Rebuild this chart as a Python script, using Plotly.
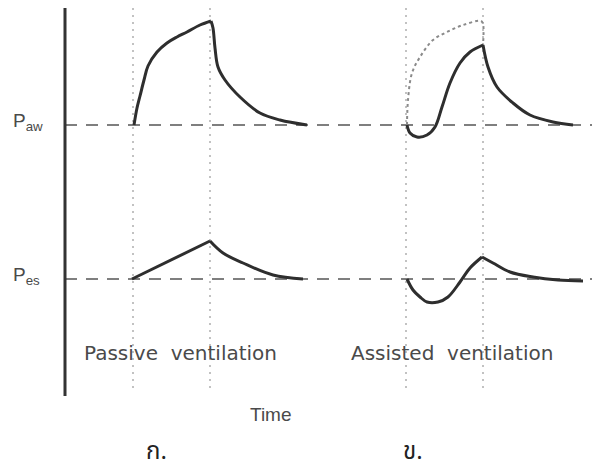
import plotly.graph_objects as go

# Time axis (horizontal units) and pressure (vertical units, screen-like, increasing downward)
paw_base = 125
pes_base = 279
cycle_marks_left = [133, 210]
cycle_marks_right = [406, 483]

# Passive ventilation - Paw
pa_rise_t = [134, 137, 140, 144, 148, 157, 167, 177, 187, 200, 211]
pa_rise_p = [125, 108, 96, 80, 66, 52, 43, 37, 32, 25, 21]
pa_fall_t = [211, 213, 215, 218, 225, 240, 260, 280, 307]
pa_fall_p = [21, 28, 48, 67, 80, 97, 113, 120, 125]

# Assisted ventilation - Paw (solid) and passive reference (dotted)
aa_t = [407, 410, 417, 427, 435, 442, 450, 460, 470, 483]
aa_p = [125, 133, 137, 135, 127, 107, 83, 63, 52, 45]
aa_fall_t = [483, 488, 497, 513, 530, 553, 573]
aa_fall_p = [45, 67, 87, 103, 115, 122, 125]
ad_t = [407, 408, 412, 420, 433, 447, 463, 481, 483, 483]
ad_p = [125, 100, 73, 57, 40, 32, 25, 21, 24, 45]

# Passive ventilation - Pes
pe_rise_t = [132, 210]
pe_rise_p = [279, 241]
pe_fall_t = [210, 223, 243, 273, 303]
pe_fall_p = [241, 253, 263, 275, 279]

# Assisted ventilation - Pes
ae_rise_t = [407, 413, 420, 427, 438, 448, 460, 470, 482]
ae_rise_p = [279, 290, 297, 302, 302, 297, 282, 268, 257]
ae_fall_t = [482, 493, 510, 533, 558, 583]
ae_fall_p = [257, 263, 272, 277, 280, 281]

dark = "#2e2e2e"
fig = go.Figure()

# dashed baselines
for b in [paw_base, pes_base]:
    fig.add_trace(go.Scatter(x=[65, 592], y=[b, b], mode="lines",
                             line=dict(color="#555555", width=1.6, dash="12px,9px"),
                             hoverinfo="skip"))
# dotted verticals
for v in cycle_marks_left + cycle_marks_right:
    fig.add_trace(go.Scatter(x=[v, v], y=[8, 392], mode="lines",
                             line=dict(color="#9a9a9a", width=1.2, dash="2px,5px"),
                             hoverinfo="skip"))

# vertical axis line
fig.add_trace(go.Scatter(x=[65, 65], y=[8, 396], mode="lines",
                         line=dict(color="#333333", width=3), hoverinfo="skip"))

# dotted reference curve
fig.add_trace(go.Scatter(x=ad_t, y=ad_p, mode="lines", line_shape="spline",
                         line=dict(color="#8a8a8a", width=2, dash="dot"), hoverinfo="skip"))

for t, p in [(pa_rise_t, pa_rise_p), (pa_fall_t, pa_fall_p),
             (aa_t, aa_p), (aa_fall_t, aa_fall_p),
             (pe_rise_t, pe_rise_p), (pe_fall_t, pe_fall_p),
             (ae_rise_t, ae_rise_p), (ae_fall_t, ae_fall_p)]:
    fig.add_trace(go.Scatter(x=t, y=p, mode="lines", line_shape="spline",
                             line=dict(color=dark, width=3), hoverinfo="skip"))

txt = dict(family="Liberation Sans, Arial, sans-serif", color="#4a4a4a")
wide = dict(family="DejaVu Sans, sans-serif", color="#4a4a4a")
thai = dict(family="Noto Sans Thai, Noto Sans, sans-serif", color="#222222", size=24)
anns = [
    dict(x=11, y=paw_base - 3, text="P<sub>aw</sub>", xanchor="left", font=dict(size=19, **txt)),
    dict(x=11, y=pes_base - 3, text="P<sub>es</sub>", xanchor="left", font=dict(size=19, **txt)),
    dict(x=180, y=353, text="Passive  ventilation", font=dict(size=20, **wide)),
    dict(x=452, y=353, text="Assisted  ventilation", font=dict(size=20, **wide)),
    dict(x=271, y=414, text="Time", font=dict(size=19, **txt)),
    dict(x=156, y=452, text="ก.", font=thai),
    dict(x=413, y=452, text="ข.", font=thai),
]
for a in anns:
    a.update(showarrow=False, xref="x", yref="y")

fig.update_layout(
    width=593, height=470, margin=dict(l=0, r=0, t=0, b=0),
    plot_bgcolor="white", paper_bgcolor="white", showlegend=False,
    xaxis=dict(range=[0, 593], visible=False, fixedrange=True),
    yaxis=dict(range=[470, 0], visible=False, fixedrange=True),
    annotations=anns,
)
fig.write_html("out.html", config={"displayModeBar": False},
               post_script="document.body.style.margin='0';document.body.style.overflow='hidden';")
